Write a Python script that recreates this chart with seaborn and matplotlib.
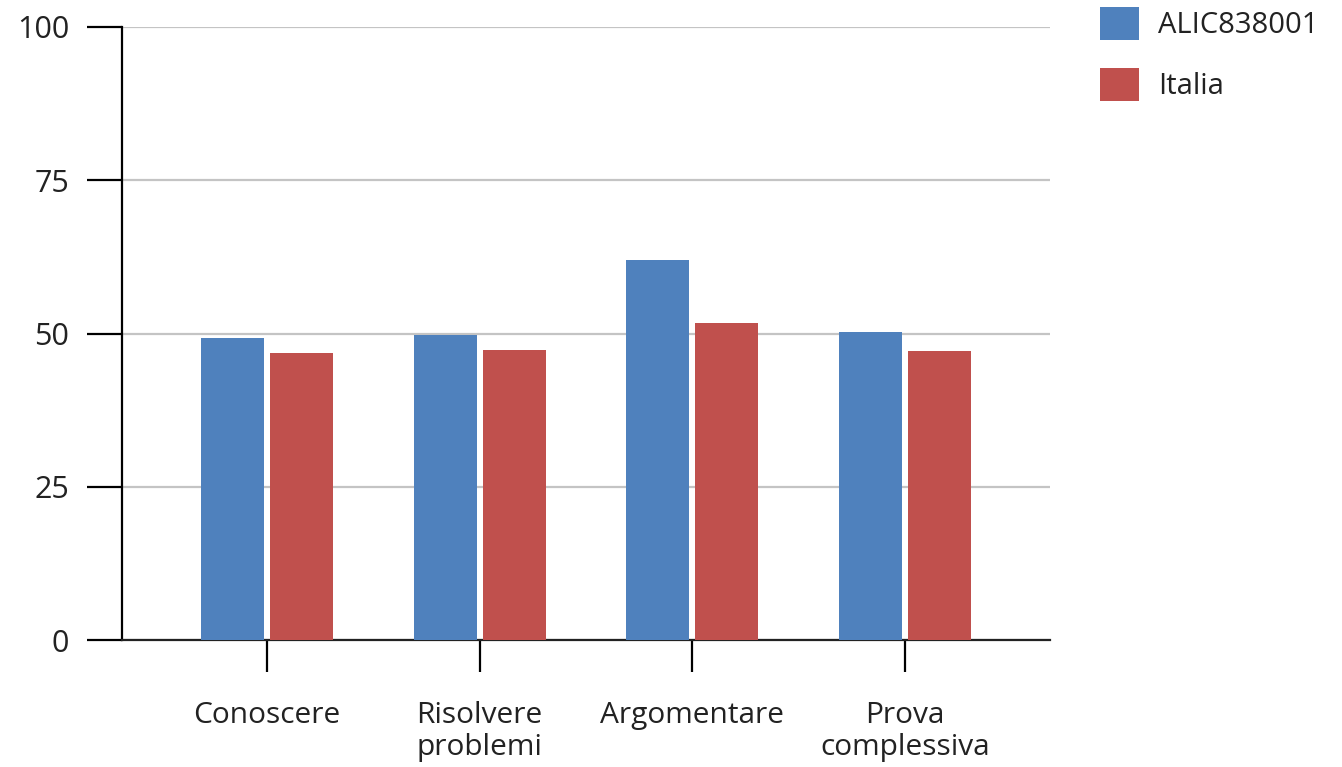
import matplotlib
matplotlib.use("Agg")
import matplotlib.pyplot as plt
import seaborn as sns
import pandas as pd
from matplotlib.patches import Patch

categories = ["Conoscere", "Risolvere\nproblemi", "Argomentare", "Prova\ncomplessiva"]
series_names = ["ALIC838001", "Italia"]
scuola = [49.3, 49.8, 62.0, 50.2]
italia = [46.8, 47.3, 51.7, 47.1]
colors = ["#4F81BD", "#C0504D"]

df = pd.DataFrame({
    "categoria": categories * 2,
    "serie": [series_names[0]] * 4 + [series_names[1]] * 4,
    "valore": scuola + italia,
})

sns.set_style("white")
plt.rcParams["font.family"] = ["Open Sans", "DejaVu Sans"]

fig = plt.figure(figsize=(13.42, 7.67), dpi=100)
ax = fig.add_axes([122 / 1342, 1 - 640 / 767, 928 / 1342, 613 / 767])

sns.barplot(data=df, x="categoria", y="valore", hue="serie", palette=colors,
            width=0.648, gap=0.086, saturation=1, linewidth=0, ax=ax,
            legend=False, zorder=3)

ax.set_xlim(-0.68, 3.68)
ax.set_ylim(0, 100)
ax.set_yticks([0, 25, 50, 75, 100])
ax.yaxis.grid(True, color="#c4c4c4", lw=1.6, zorder=0)
ax.set_axisbelow(True)
ax.set_xlabel("")
ax.set_ylabel("")

for s in ["top", "right"]:
    ax.spines[s].set_visible(False)
ax.spines["left"].set_color("black")
ax.spines["left"].set_linewidth(1.6)
ax.spines["bottom"].set_color("#222222")
ax.spines["bottom"].set_linewidth(1.6)

ax.tick_params(axis="y", left=True, length=25, width=1.6, color="black", pad=13,
               labelsize=22, labelcolor="#222222")
ax.tick_params(axis="x", bottom=True, length=23, width=1.6, color="black", pad=21,
               labelsize=21.5, labelcolor="#222222")
for lab in ax.get_xticklabels():
    lab.set_linespacing(1.13)

handles = [Patch(facecolor=c, edgecolor="none") for c in colors]
fig.legend(handles, series_names, loc="upper left", bbox_to_anchor=(1094 / 1342, 0.998),
           frameon=False, fontsize=21, handlelength=1.35, handleheight=1.35,
           labelspacing=0.95, handletextpad=0.65, borderpad=0.2, borderaxespad=0,
           labelcolor="#222222")

fig.savefig("out.png", dpi=100)
